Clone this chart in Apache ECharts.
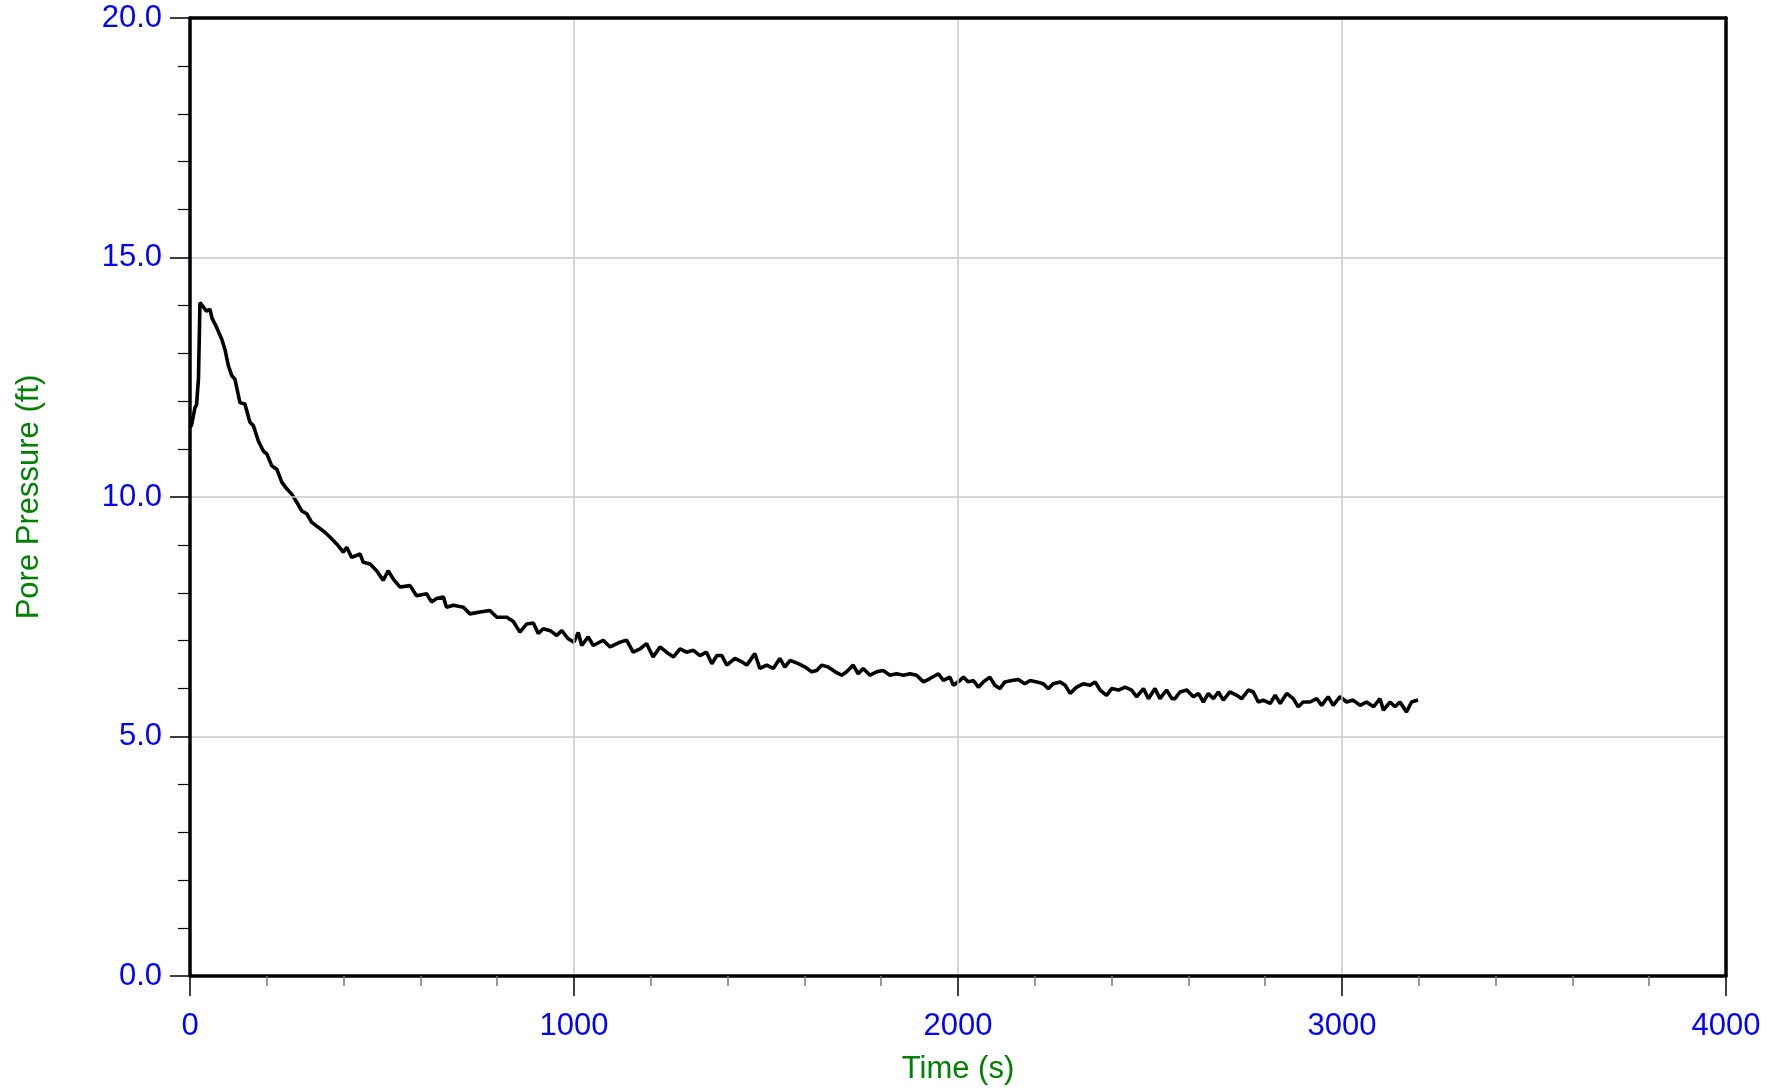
<!DOCTYPE html>
<html>
<head>
<meta charset="utf-8">
<script src="https://cdn.jsdelivr.net/npm/echarts@6/dist/echarts.min.js"></script>
<style>
html,body{margin:0;padding:0;background:#fff;}
#chart{width:1783px;height:1090px;}
</style>
</head>
<body>
<div id="chart"></div>
<script>
const xTitle = 'Time (s)';
const yTitle = 'Pore Pressure (ft)';
const xTicks = [0, 1000, 2000, 3000, 4000];
const yTicks = [0, 5, 10, 15, 20];
const timeSec = [
0,4,13,17,22,26,30,43,52,57,70,83,91,100,109,117,130,143,156,165,178,191,200,213,226,239,252,265,278,291,304,317,334,352,365,382,399,408,421,443,451,469,486,503,516,529,547,573,590,616,629,642,660,668,686,712,729,755,781,799,825,842,859,877,894,907,920,938,955,968,985,1000,1011,1020,1037,1050,1076,1094,1120,1137,1154,1172,1189,1206,1224,1241,1259,1276,1293,1311,1328,1345,1359,1372,1385,1398,1419,1437,1450,1471,1484,1502,1519,1536,1549,1563,1584,1602,1619,1632,1645,1662,1680,1697,1710,1727,1740,1753,1771,1788,1805,1823,1840,1858,1875,1892,1910,1927,1949,1962,1979,1988,2005,2014,2027,2040,2053,2066,2083,2096,2109,2122,2140,2157,2174,2188,2205,2222,2235,2248,2266,2279,2292,2309,2326,2344,2357,2370,2387,2400,2418,2435,2452,2465,2483,2496,2513,2526,2543,2557,2565,2578,2596,2613,2626,2639,2652,2665,2678,2691,2708,2726,2739,2756,2769,2782,2795,2813,2826,2839,2856,2873,2886,2899,2917,2934,2947,2964,2977,2995,3012,3029,3047,3064,3082,3099,3108,3125,3138,3151,3168,3181,3198
];
const porePressure = [
11.45,11.5,11.87,11.92,12.46,14.06,14.02,13.88,13.92,13.74,13.53,13.29,13.08,12.74,12.53,12.46,11.97,11.94,11.56,11.49,11.17,10.96,10.9,10.65,10.58,10.31,10.17,10.06,9.89,9.71,9.65,9.47,9.37,9.26,9.16,9.02,8.85,8.95,8.74,8.81,8.64,8.6,8.46,8.26,8.46,8.29,8.12,8.15,7.94,7.98,7.81,7.88,7.91,7.70,7.74,7.70,7.56,7.60,7.63,7.49,7.49,7.40,7.18,7.35,7.37,7.15,7.25,7.21,7.11,7.21,7.04,6.97,7.17,6.90,7.08,6.90,7.01,6.87,6.97,7.01,6.76,6.83,6.94,6.66,6.87,6.76,6.66,6.83,6.76,6.80,6.69,6.76,6.52,6.69,6.69,6.49,6.63,6.56,6.49,6.73,6.42,6.49,6.42,6.63,6.45,6.59,6.52,6.45,6.35,6.38,6.49,6.45,6.35,6.28,6.35,6.49,6.31,6.42,6.28,6.35,6.38,6.28,6.31,6.28,6.31,6.28,6.14,6.21,6.31,6.17,6.24,6.07,6.17,6.24,6.14,6.17,6.03,6.14,6.24,6.07,6.0,6.14,6.17,6.19,6.10,6.17,6.14,6.10,6.0,6.10,6.14,6.07,5.90,6.03,6.10,6.07,6.14,5.97,5.86,6.0,5.97,6.03,5.97,5.83,6.0,5.79,6.0,5.79,5.97,5.79,5.79,5.93,5.97,5.83,5.90,5.72,5.90,5.79,5.93,5.76,5.93,5.86,5.79,5.97,5.93,5.72,5.76,5.69,5.86,5.69,5.90,5.79,5.62,5.72,5.72,5.79,5.65,5.83,5.65,5.83,5.72,5.76,5.65,5.72,5.62,5.79,5.55,5.72,5.62,5.72,5.51,5.72,5.76
];

const chart = echarts.init(document.getElementById('chart'), null, {renderer: 'canvas'});
const font = '"Liberation Sans", Arial, sans-serif';
const xMin = xTicks[0], xMax = xTicks[xTicks.length-1], xStep = xTicks[1]-xTicks[0];
const yMin = yTicks[0], yMax = yTicks[yTicks.length-1], yStep = yTicks[1]-yTicks[0];
chart.setOption({
  animation: false,
  backgroundColor: '#ffffff',
  grid: {left: 190, right: 57, top: 18, bottom: 112, show: false},
  xAxis: [{
    type: 'value', min: xMin, max: xMax, interval: xStep,
    name: xTitle, nameLocation: 'middle', nameGap: 78,
    nameTextStyle: {color: '#008000', fontSize: 31, fontFamily: font},
    axisLine: {show: true, lineStyle: {color: '#000', width: 3.5}},
    axisTick: {show: true, inside: false, length: 20, lineStyle: {color: '#000', width: 1.5}},
    minorTick: {show: true, splitNumber: 5, length: 10, lineStyle: {color: '#777', width: 1.5}},
    axisLabel: {color: '#0000ff', fontSize: 31, fontFamily: font, margin: 35, formatter: v => String(v)},
    splitLine: {show: true, lineStyle: {color: '#c8c8c8', width: 1.5}},
    z: 10
  }, {
    type: 'value', position: 'top', min: xMin, max: xMax, interval: xStep,
    axisLine: {show: true, onZero: false, lineStyle: {color: '#000', width: 3.5}},
    axisTick: {show: false}, axisLabel: {show: false}, splitLine: {show: false},
    z: 10
  }],
  yAxis: [{
    type: 'value', min: yMin, max: yMax, interval: yStep,
    name: yTitle, nameLocation: 'middle', nameGap: 145,
    nameTextStyle: {color: '#008000', fontSize: 31, fontFamily: font},
    axisLine: {show: true, lineStyle: {color: '#000', width: 3.5}},
    axisTick: {show: true, inside: false, length: 20, lineStyle: {color: '#000', width: 1.5}},
    minorTick: {show: true, splitNumber: 5, length: 12, lineStyle: {color: '#000', width: 1.2}},
    axisLabel: {color: '#0000ff', fontSize: 31, fontFamily: font, margin: 28, formatter: v => v.toFixed(1)},
    splitLine: {show: true, lineStyle: {color: '#c8c8c8', width: 1.5}},
    z: 10
  }, {
    type: 'value', position: 'right', min: yMin, max: yMax, interval: yStep,
    axisLine: {show: true, onZero: false, lineStyle: {color: '#000', width: 3.5}},
    axisTick: {show: false}, axisLabel: {show: false}, splitLine: {show: false},
    z: 10
  }],
  series: [{
    type: 'line',
    xAxisIndex: 0, yAxisIndex: 0,
    data: timeSec.map((t, i) => [t, porePressure[i]]),
    showSymbol: false,
    lineStyle: {color: '#000', width: 3.6},
    z: 5
  }]
});
</script>
</body>
</html>
